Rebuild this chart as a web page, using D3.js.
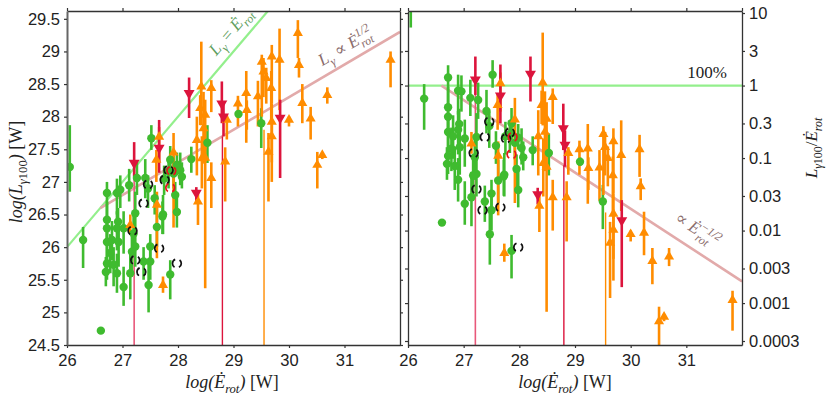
<!DOCTYPE html>
<html>
<head>
<meta charset="utf-8">
<script src="https://cdn.jsdelivr.net/npm/d3@7"></script>
<style>
body{margin:0;background:#fff}
svg text{font-family:"Liberation Sans",Arial,sans-serif;fill:#222}
.math{font-family:"Liberation Serif","DejaVu Serif",serif}
</style>
</head>
<body>
<svg id="chart" width="830" height="396"></svg>
<script>
// rows: [log Erot, log Lgamma100, error low, error high]
const detections = [
  [26.05,27.23,26.85,27.87],[26.29,26.11,25.68,26.31],[26.61,24.72,24.72,24.72],
  [26.72,26.83,26.60,27.00],[26.90,26.83,26.50,27.05],[26.96,26.88,26.60,27.10],
  [27.12,26.95,26.70,27.20],[27.26,27.06,26.80,27.30],[27.41,27.06,26.75,27.35],
  [27.46,26.90,26.60,27.10],[27.52,27.67,27.49,27.87],[27.58,26.75,26.50,26.95],
  [27.75,27.05,26.80,27.25],[27.83,27.16,26.90,27.35],[27.86,27.34,27.10,27.55],
  [27.92,27.13,26.90,27.40],[27.95,26.80,26.50,27.00],[27.98,27.26,27.10,27.45],
  [28.04,27.18,26.95,27.45],[28.07,27.08,26.90,27.30],[28.24,27.35,27.14,27.54],
  [28.53,27.60,27.29,27.87],[29.09,28.04,27.98,28.10],[29.50,27.90,27.52,28.13],
  [26.72,26.42,26.10,26.70],[26.92,26.39,26.10,26.60],[27.23,26.52,26.20,26.85],
  [27.73,26.50,26.20,26.80],[27.98,26.54,26.30,26.80],[26.72,26.29,26.00,26.60],
  [26.90,26.29,25.95,26.55],[27.02,26.29,25.90,26.55],[27.62,26.31,26.00,26.60],
  [27.20,26.21,25.90,26.50],[26.72,26.08,25.80,26.30],[26.81,26.11,25.80,26.40],
  [26.93,26.08,25.70,26.30],[27.23,26.01,25.70,26.30],[27.50,26.01,25.80,26.20],
  [26.78,25.91,25.60,26.20],[27.17,25.93,25.60,26.20],[26.72,25.75,25.50,26.00],
  [26.84,25.73,25.40,26.00],[27.38,25.78,25.50,26.00],[27.50,25.78,25.50,26.00],
  [26.70,25.62,25.40,25.85],[26.90,25.60,25.30,25.90],[27.14,25.60,25.20,25.95],
  [27.86,25.58,25.20,25.80],[27.02,25.39,25.10,25.70],[27.47,25.42,25.00,25.80],
  [27.72,26.47,26.20,26.70]
]
const lowerLimits = [
  [27.14,26.34,26.20,26.50],[27.62,26.65,25.83,26.85],[27.61,27.34,27.00,27.49],
  [27.66,27.69,27.30,27.84],[27.73,25.42,25.30,25.55],[27.92,27.45,26.30,27.75],
  [28.36,26.70,26.34,26.85],[28.40,28.13,27.87,28.33],[28.46,27.82,27.28,28.38],
  [28.34,27.64,27.10,28.00],[28.43,27.36,26.90,27.70],[28.49,27.37,25.37,27.60],
  [28.42,28.46,27.87,29.15],[28.60,28.44,28.07,28.56],[28.49,28.03,27.50,28.26],
  [28.60,27.06,26.60,27.30],[28.85,27.31,26.70,27.53],[28.88,27.95,27.65,28.03],
  [29.08,28.20,27.85,28.32],[29.23,28.36,27.60,28.70],[29.24,28.10,27.80,28.25],
  [29.44,28.31,27.85,28.55],[29.51,28.84,28.00,28.95],[29.54,28.69,28.30,28.90],
  [29.59,28.59,28.20,28.75],[29.69,28.92,28.20,29.10],[29.83,28.87,28.10,29.35],
  [29.68,28.44,27.90,28.70],[29.69,27.92,27.30,28.20],[29.63,27.46,26.70,27.75],
  [29.69,27.70,27.00,27.95],[30.00,27.95,27.85,28.00],[30.16,29.28,28.90,29.48],
  [30.18,28.79,28.60,28.90],[30.24,28.21,27.90,28.50],[30.39,27.97,27.65,28.15],
  [30.69,28.33,28.20,28.45],[30.51,27.26,26.90,27.46],[30.60,27.41,27.35,27.45],
  [31.83,28.87,28.45,29.00]
]
const upperLimits = [
  [27.21,27.29,27.08,27.61],[27.66,27.52,27.14,27.95],[28.20,28.36,27.98,28.60],
  [28.33,26.83,26.69,26.92],[28.79,28.20,27.90,28.54],[28.82,28.00,27.70,28.20],
  [29.84,27.98,27.06,28.26]
]
// lower error reaching below the axis: [log Erot, top of the drop, kind]
const thinDrops = [[27.21,27.08,'pink'],[28.80,27.70,'red'],[29.55,27.80,'orange']]
const blackRings = [[27.46,26.96],[27.76,27.03],[27.83,27.18],[27.38,26.67],[27.18,26.25],
  [27.23,25.80],[27.34,25.62],[27.66,25.98],[27.98,25.75]]
const redRings = [[27.88,27.17],[27.86,26.91]]

const xTicks = [26,27,28,29,30,31]
const yTicksLeft = [24.5,25,25.5,26,26.5,27,27.5,28,28.5,29,29.5]
const yTicksRight = [10,3,1,0.3,0.1,0.03,0.01,0.003,0.001,0.0003]
const yTickLabelsRight = ['10','3','1','0.3','0.1','0.03','0.01','0.003','0.001','0.0003']

const col = {green:'#3fbb2f', orange:'#ff8c00', red:'#dc143c', pink:'#e8587a',
  lgreen:'#93ef8c', lpink:'#e2aaaa'}

let svg = d3.select('#chart')

let xL = d3.scaleLinear([26,32],[67,400])
let yL = d3.scaleLinear([24.5,29.62],[345,11])
let xR = d3.scaleLinear([26,32],[408,742])
let yR = d3.scaleLog([10**-3.578,10**1.028],[345,11])

let panels = [
  {id:'L', x:xL, y:yL, f:(x,v)=>v, yMin:24.5},
  {id:'R', x:xR, y:yR, f:(x,v)=>10**(v-x), yMin:10**-3.578}
]

function styleAxis(g){
  g.select('.domain').attr('stroke','#333').attr('stroke-width',1.3)
  g.selectAll('.tick line').attr('stroke','#333').attr('stroke-width',1.2)
  g.selectAll('.tick text').attr('font-size',16.5).attr('fill','#222')
}

panels.forEach((p)=>{
  let { x, y, f, id } = p
  let [x0,x1] = x.range(), [y1,y0] = y.range()

  svg.append('clipPath').attr('id','clip'+id)
    .append('rect').attr('x',x0).attr('y',y0).attr('width',x1-x0).attr('height',y1-y0)
  let g = svg.append('g').attr('clip-path','url(#clip'+id+')')

  // reference lines
  let line = d3.line().x(d=>x(d[0])).y(d=>y(f(d[0],d[1])))
  if(id=='L'){
    g.append('path').attr('d',line([[26,26],[29.62,29.62]]))
      .attr('stroke',col.lgreen).attr('stroke-width',2.2).attr('fill','none')
  }else{
    g.append('path').attr('d',line([[26,26],[32,32]]))
      .attr('stroke',col.lgreen).attr('stroke-width',2.2).attr('fill','none')
  }
  g.append('path').attr('d',line([[26.6,0.5*26.6+13.3],[32,0.5*32+13.3]]))
    .attr('stroke',col.lpink).attr('stroke-width',2.6).attr('fill','none')

  // long drops below the axis
  thinDrops.forEach((d)=>{
    g.append('line')
      .attr('x1',x(d[0])).attr('x2',x(d[0]))
      .attr('y1',y(f(d[0],d[1]))).attr('y2',y(p.yMin))
      .attr('stroke',col[d[2]]).attr('stroke-width',d[2]=='pink'?1.6:1.4)
  })

  // error bars
  let bars = (data,c)=>{
    data.forEach((d)=>{
      if(d[2]==d[3]) return
      g.append('line')
        .attr('x1',x(d[0])).attr('x2',x(d[0]))
        .attr('y1',y(f(d[0],d[2]))).attr('y2',y(f(d[0],d[3])))
        .attr('stroke',c).attr('stroke-width',2.6)
    })
  }
  bars(detections,col.green)
  bars(lowerLimits,col.orange)
  bars(upperLimits,col.red)

  g.selectAll('circle.det').data(detections).join('circle')
    .attr('class','det')
    .attr('cx',d=>x(d[0])).attr('cy',d=>y(f(d[0],d[1]))).attr('r',4.2)
    .attr('fill',col.green)

  let tri = d3.symbol(d3.symbolTriangle,44)
  g.selectAll('path.lo').data(lowerLimits).join('path')
    .attr('class','lo').attr('d',tri)
    .attr('transform',d=>`translate(${x(d[0])},${y(f(d[0],d[1]))})`)
    .attr('fill',col.orange)
  g.selectAll('path.up').data(upperLimits).join('path')
    .attr('class','up').attr('d',d3.symbol(d3.symbolTriangle,52))
    .attr('transform',d=>`translate(${x(d[0])},${y(f(d[0],d[1]))}) rotate(180)`)
    .attr('fill',col.red)

  // open rings drawn as "( )": two arcs, gaps at top and bottom
  let ring = (data,c)=>{
    let r = 4.4, circ = 2*Math.PI*r
    g.selectAll(null).data(data).join('circle')
      .attr('cx',d=>x(d[0])).attr('cy',d=>y(f(d[0],d[1]))).attr('r',r)
      .attr('fill','none').attr('stroke',c).attr('stroke-width',1.7)
      .attr('stroke-dasharray',`${circ/3},${circ/6}`).attr('stroke-dashoffset',circ/6)
  }
  ring(blackRings,'#111')
  ring(redRings,'#e8121c')

  // frame and ticks
  let bottom = svg.append('g').attr('transform',`translate(0,${y1})`)
    .call(d3.axisBottom(x).tickValues(xTicks).tickFormat(d3.format('d')).tickSize(3).tickSizeOuter(0).tickPadding(6))
  let top = svg.append('g').attr('transform',`translate(0,${y0})`)
    .call(d3.axisTop(x).tickValues(xTicks.concat([32])).tickFormat('').tickSize(3).tickSizeOuter(0))
  let yt = id=='L'? yTicksLeft : yTicksRight
  let left = svg.append('g').attr('transform',`translate(${x0},0)`)
    .call(d3.axisLeft(y).tickValues(yt).tickSize(3).tickSizeOuter(0).tickPadding(4)
      .tickFormat(id=='L'? (d=>d%1? d.toFixed(1): d.toFixed(0)) : ''))
  let right = svg.append('g').attr('transform',`translate(${x1},0)`)
    .call(d3.axisRight(y).tickValues(yt).tickSize(3).tickSizeOuter(0).tickPadding(4)
      .tickFormat(id=='R'? ((d,i)=>yTickLabelsRight[i]) : ''))
  ;[bottom,top,left,right].forEach(styleAxis)
  if(id=='L') left.select('.domain').attr('stroke','#666').attr('stroke-width',2)
})

// math text helper: parts = [text, kind] kind: i italic, r roman, sub, subr, sup
function mathText(g, parts, size){
  let t = g.append('text').attr('class','math').attr('font-size',size)
  let shift = 0
  parts.forEach(([s,k,extra])=>{
    let ts = t.append('tspan').text(s)
    let target = 0, fs = size
    if(k=='sub'||k=='subr'){ target = size*0.3; fs = size*0.7 }
    if(k=='sup'){ target = -size*0.42; fs = size*0.7 }
    ts.attr('font-size',fs).attr('font-style',(k=='r'||k=='subr')?'normal':'italic')
    if(target!=shift) ts.attr('dy',target-shift)
    if(extra) ts.attr('dx',extra)
    shift = target
  })
  return t
}

// axis labels
mathText(svg.append('g').attr('transform','translate(22,172) rotate(-90)'),
  [['log(','i'],['L','i'],['γ','sub'],['100','subr'],[')','i'],[' [W]','r']],18)
  .attr('text-anchor','middle')
;[232,565].forEach((cx)=>{
  mathText(svg.append('g').attr('transform',`translate(${cx},388)`),
    [['log(','i'],['Ė','i'],['rot','sub'],[')','i'],[' [W]','r']],18)
    .attr('text-anchor','middle')
})
mathText(svg.append('g').attr('transform','translate(812,148) rotate(-90)'),
  [['L','i'],['γ','sub'],['100','subr'],['/','r'],['Ė','i'],['rot','sub']],17)
  .attr('text-anchor','middle').attr('dy','0.3em')

// annotations
mathText(svg.append('g').attr('transform','translate(230,31) rotate(-49.6)'),
  [['L','i'],['γ','sub'],[' = ','r'],['Ė','i'],['rot','sub']],17)
  .attr('text-anchor','middle').attr('dy','0.35em')
  .selectAll('tspan').attr('fill','#5e9e5e')
mathText(svg.append('g').attr('transform','translate(345,46) rotate(-30.5)'),
  [['L','i'],['γ','sub'],[' ∝ ','r'],['Ė','i'],['1/2','sup'],['rot','sub',-15]],17)
  .attr('text-anchor','middle').attr('dy','0.35em')
  .selectAll('tspan').attr('fill','#8a6c6c')
svg.append('text').attr('class','math').attr('x',727).attr('y',78)
  .attr('text-anchor','end').attr('font-size',17).attr('fill','#5aa85a').text('100%')
mathText(svg.append('g').attr('transform','translate(698,229) rotate(33)'),
  [['∝ ','r'],['Ė','i'],['−1/2','sup'],['rot','sub',-22]],17)
  .attr('text-anchor','middle').attr('dy','0.35em')
  .selectAll('tspan').attr('fill','#8a6c6c')
</script>
</body>
</html>
